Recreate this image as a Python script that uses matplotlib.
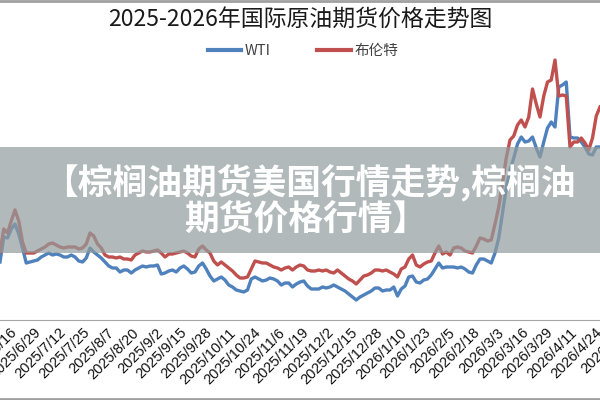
import matplotlib
matplotlib.use("Agg")
import matplotlib.pyplot as plt
from matplotlib.lines import Line2D
from matplotlib.patches import Rectangle
import pandas as pd

plt.rcParams['font.family'] = ['Noto Sans CJK SC', 'DejaVu Sans']

TITLE = "2025-2026年国际原油期货价格走势图"
BANNER = ["【棕榈油期货美国行情走势,棕榈油", "期货价格行情】"]
NAMES = ["WTI", "布伦特"]

# one reading every 2 days starting 2025-06-11
dates = pd.date_range("2025-06-11", periods=161, freq="2D")

wti = [64.5, 70.75, 70.5, 72.75, 74.0, 71.5, 68.0, 64.25, 64.5, 64.75,
       65.0, 65.75, 66.25, 66.75, 66.25, 66.5, 66.25, 65.75, 65.75, 66.25,
       65.75, 64.75, 64.5, 65.5, 68.0, 67.0, 66.25, 65.5, 64.5, 63.5,
       63.0, 63.0, 62.0, 62.5, 62.5, 61.75, 62.5, 63.0, 63.5, 63.25,
       63.5, 63.5, 63.75, 61.5, 61.75, 62.25, 62.5, 62.0, 63.0, 63.5,
       62.75, 61.75, 62.0, 63.5, 64.25, 62.75, 61.0, 59.75, 60.25, 60.75,
       60.0, 58.75, 58.25, 57.5, 57.25, 57.0, 57.5, 60.25, 60.75, 60.25,
       59.75, 60.0, 60.5, 60.25, 59.75, 58.75, 59.25, 59.25, 58.25, 59.0,
       59.5, 59.75, 58.5, 57.75, 57.75, 57.75, 58.25, 58.0, 58.25, 58.75,
       58.25, 57.75, 57.25, 56.5, 55.75, 55.0, 55.75, 56.25, 56.75, 57.25,
       58.0, 58.0, 57.25, 57.5, 57.5, 58.25, 56.0, 57.75, 58.5, 60.75,
       61.0, 59.5, 59.25, 60.0, 60.25, 61.25, 62.75, 64.25, 63.0, 63.25,
       63.25, 63.25, 63.0, 63.25, 62.75, 62.0, 61.75, 63.75, 65.25, 65.25,
       64.75, 64.25, 66.75, 70.5, 76.75, 83.0, 87.5, 90.5, 94.0, 95.75,
       94.5, 94.75, 95.75, 93.0, 90.75, 94.5, 98.0, 99.5, 98.25, 108.25,
       108.75, 109.5, 95.75, 95.5, 95.5, 94.5, 93.25, 91.5, 91.25, 93.25,
       93.25]

brent = [67.0, 72.75, 71.75, 74.75, 77.5, 74.75, 69.5, 66.75, 66.75, 66.75,
         67.25, 67.75, 68.25, 69.0, 69.25, 68.75, 68.25, 68.0, 68.25, 68.25,
         68.25, 67.75, 68.0, 69.0, 71.75, 71.0, 69.0, 68.0, 66.25, 65.75,
         65.75, 65.5, 65.75, 65.25, 65.25, 65.0, 66.25, 66.75, 67.25, 67.0,
         67.0, 67.25, 67.5, 66.75, 65.75, 66.5, 66.5, 66.75, 67.0, 67.25,
         66.75, 66.0, 65.75, 67.75, 68.5, 67.5, 66.75, 64.75, 63.75, 64.5,
         63.75, 63.0, 62.25, 61.25, 60.5, 60.5, 60.75, 62.75, 64.75, 64.5,
         64.25, 64.25, 63.75, 63.25, 63.0, 62.5, 63.0, 63.25, 62.5, 63.25,
         63.75, 63.5, 62.5, 62.25, 62.25, 62.5, 62.25, 62.5, 62.0, 61.75,
         62.5, 61.75, 61.0, 60.25, 59.75, 59.0, 60.0, 61.0, 61.25, 61.75,
         62.5, 62.5, 62.25, 62.5, 62.0, 61.5, 60.75, 62.75, 63.25, 65.25,
         66.25, 63.75, 63.25, 64.0, 64.5, 64.75, 66.75, 68.5, 66.5, 67.0,
         66.25, 68.0, 68.25, 68.0, 67.25, 67.0, 66.75, 68.5, 70.5, 70.25,
         69.75, 70.0, 74.0, 78.25, 84.25, 90.5, 95.0, 96.0, 98.75, 100.0,
         98.25, 100.75, 107.75, 104.0, 100.75, 106.0, 109.5, 110.0, 115.0, 106.0,
         106.25, 106.0, 93.25, 94.5, 94.5, 95.5, 94.25, 92.5, 95.5, 101.0,
         103.25]

tick_dates = pd.date_range("2025-06-03", "2026-05-13", freq="13D")
tick_labels = [f"{d.year}/{d.month}/{d.day}" for d in tick_dates]

fig = plt.figure(figsize=(6, 4), dpi=100)
ax = fig.add_axes([-0.05, 0.2, 1.1, 0.7])

ax.plot(dates, wti, color='#4F81BD', lw=2.4, solid_joinstyle='round')
ax.plot(dates, brent, color='#C0504D', lw=2.4, solid_joinstyle='round')

ax.set_xlim(pd.Timestamp("2025-05-26"), pd.Timestamp("2026-05-13"))
ax.set_ylim(50, 120)
ax.set_xticks(tick_dates)
ax.set_xticklabels(tick_labels, rotation=45, ha='right', rotation_mode='anchor',
                   fontsize=10.5, family='Liberation Sans', color='#111111')
ax.tick_params(axis='x', length=0, pad=4)
ax.set_yticks([])
for s in ['top', 'left', 'right']:
    ax.spines[s].set_visible(False)
ax.spines['bottom'].set_color('#A6A6A6')
ax.set_facecolor('none')

fig.text(0.5, 1 - 20 / 400, TITLE, ha='center', va='center', fontsize=16.5,
         color='#1a1a1a')

handles = [Line2D([], [], color='#4F81BD', lw=3),
           Line2D([], [], color='#C0504D', lw=3)]
fig.legend(handles, NAMES, loc='center', bbox_to_anchor=(0.505, 1 - 51 / 400),
           ncol=2, frameon=False, handlelength=2.3, columnspacing=3.2,
           handletextpad=0.25, fontsize=10.5, labelcolor='#404040')

# grey banner over the middle of the chart
fig.add_artist(Rectangle((0, 0.3675), 1, 0.265, transform=fig.transFigure,
                         facecolor=(145 / 255, 156 / 255, 157 / 255), alpha=0.7,
                         edgecolor='none', zorder=5))
fig.text(0.515, 1 - 182 / 400, BANNER[0], ha='center', va='center', fontsize=25,
         fontweight='heavy', color='white', zorder=6)
fig.text(0.51, 1 - 219 / 400, BANNER[1], ha='center', va='center', fontsize=25,
         fontweight='heavy', color='white', zorder=6)

# frame lines at top and bottom of the image
fig.add_artist(Line2D([0, 1], [0.997, 0.997], color='#A0A0A0', lw=2,
                      transform=fig.transFigure))
fig.add_artist(Line2D([0, 1], [0.003, 0.003], color='#A0A0A0', lw=2,
                      transform=fig.transFigure))

fig.savefig("out.png", dpi=100)
